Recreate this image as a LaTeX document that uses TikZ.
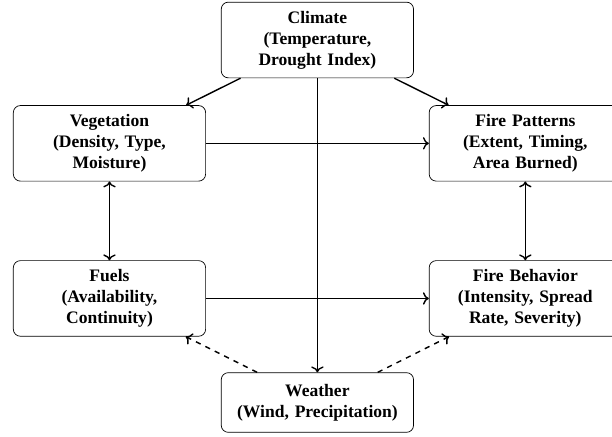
\documentclass[tikz,border=0pt]{standalone}
\usepackage{fontspec}
\setmainfont{Liberation Serif}
\usetikzlibrary{positioning,arrows.meta}
\tikzset{
  box/.style={draw,rounded corners=4pt,align=center,font=\bfseries,text width=3.5cm,inner sep=5pt,minimum height=34pt},
  arr/.style={->,thick},
  darr/.style={<->,thick},
  dsh/.style={->,thick,dashed}
}
\begin{document}
\begin{tikzpicture}
  \useasboundingbox (-180.9pt,22.8pt) rectangle (167.9pt,-225.7pt);
  \node[box] (climate) at (0,0) {Climate\\(Temperature, Drought Index)};
  \node[box] (veg) at (-118.5pt,-58.9pt) {Vegetation\\(Density, Type, Moisture)};
  \node[box] (pattern) at (118.5pt,-58.9pt) {Fire Patterns\\(Extent, Timing, Area Burned)};
  \node[box] (fuels) at (-118.5pt,-147.3pt) {Fuels\\(Availability, Continuity)};
  \node[box] (behav) at (118.5pt,-147.3pt) {Fire Behavior\\(Intensity, Spread Rate, Severity)};
  \node[box] (weather) at (0,-206.6pt) {Weather\\(Wind, Precipitation)};
  \draw[arr] (climate) -- (veg);
  \draw[arr] (climate) -- (pattern);
  \draw[arr] (climate) -- (weather);
  \draw[arr] (veg) -- (pattern);
  \draw[arr] (fuels) -- (behav);
  \draw[darr] (veg) -- (fuels);
  \draw[darr] (pattern) -- (behav);
  \draw[dsh] (weather) -- (fuels);
  \draw[dsh] (weather) -- (behav);
\end{tikzpicture}
\end{document}
